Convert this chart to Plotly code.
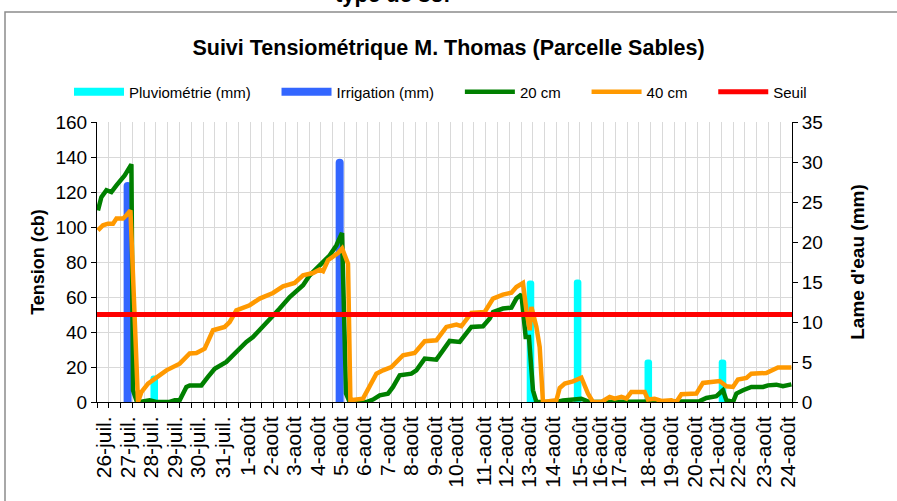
import plotly.graph_objects as go

# ---------------- data ----------------
dates = ["26-juil.", "27-juil.", "28-juil.", "29-juil.", "30-juil.", "31-juil.",
         "1-août", "2-août", "3-août", "4-août", "5-août", "6-août", "7-août", "8-août",
         "9-août", "10-août", "11-août", "12-août", "13-août", "14-août", "15-août",
         "16-août", "17-août", "18-août", "19-août", "20-août", "21-août", "22-août",
         "23-août", "24-août"]
# position of each date label along the reading axis (reading index units)
date_pos = [0.15, 2.13, 4.12, 6.10, 8.07, 10.20, 12.32, 14.30, 16.28, 18.26,
            20.25, 22.22, 24.20, 26.19, 28.17, 30.01, 32.41, 34.25, 36.23, 38.21,
            40.54, 42.23, 43.81, 46.27, 48.26, 50.24, 52.13, 53.91, 56.18, 58.16]

# tension at 20 cm (cb)
t20_x = [-0.42, -0.13, 0.30, 0.72, 1.15, 1.57, 1.85, 2.42, 2.56, 2.84, 3.12, 3.97, 4.54,
         5.67, 6.10, 6.52, 7.09, 7.37, 8.36, 8.92, 9.49, 10.48, 11.04, 11.61, 12.18,
         12.74, 13.59, 14.30, 15.01, 15.86, 16.56, 16.99, 17.56, 18.41, 19.26, 19.82,
         20.30, 20.64, 20.95, 22.37, 22.93, 23.50, 24.20, 24.63, 25.20, 26.19, 26.61,
         27.32, 28.31, 28.87, 29.44, 30.29, 30.86, 31.28, 32.27, 32.84, 33.12, 33.96,
         34.68, 35.10, 35.53, 35.89, 36.17, 36.51, 36.80, 38.50, 39.06, 40.20, 40.62,
         41.32, 42.74, 43.30, 44.44, 45.57, 46.42, 47.27, 50.09, 50.66, 51.23, 52.08,
         52.64, 52.93, 53.49, 53.78, 54.34, 55.05, 56.04, 56.46, 57.17, 57.73, 58.45]
t20_cb = [109.5, 117, 121, 120, 123.8, 126.7, 129.5, 135.8, 6.7, 1, 0, 1, 0,
          0, 1, 1, 8.6, 9.5, 9.5, 14.3, 19, 22.9, 26.7, 30.5, 34.3,
          37.1, 42.9, 48.6, 53.4, 60, 63.8, 66.7, 72.4, 78.1, 83.8, 89.5,
          96.6, 4.8, 0, 0, 1.4, 3.8, 4.8, 8.6, 15.3, 16.2, 18.1,
          24.8, 24.2, 29.5, 34.9, 34.3, 39.1, 42.9, 43.3, 47.7, 51.4, 53.4,
          53.9, 59.1, 61.5, 37.1, 37.1, 6.7, 0, 0, 0.8, 1.4, 1.9,
          0, 0, 0.5, 0.5, 0.6, 0.5, 0, 0, 0.5, 2.3, 3.3,
          6.7, 1, 0, 4.8, 6.7, 8.6, 8.6, 9.5, 9.9, 9, 10.1]

# tension at 40 cm (cb)
t40_x = [-0.42, 0.01, 0.43, 0.86, 1.15, 1.71, 2.00, 2.34, 2.98, 3.27, 3.83, 4.54, 5.39,
         6.52, 7.37, 7.94, 8.64, 9.35, 10.34, 10.76, 11.33, 12.46, 13.31, 14.44, 15.29,
         16.28, 16.99, 17.84, 18.40, 18.69, 19.11, 19.96, 20.31, 20.81, 21.01, 22.08,
         22.50, 23.22, 23.78, 24.49, 25.48, 26.47, 27.32, 28.31, 29.16, 30.01, 30.43,
         31.28, 32.41, 33.12, 33.96, 34.68, 35.10, 35.66, 35.95, 36.23, 36.38, 36.80,
         37.08, 37.36, 38.50, 38.78, 39.21, 39.91, 40.62, 41.18, 41.60, 42.32, 43.02,
         43.45, 44.02, 44.44, 44.86, 45.99, 46.27, 46.84, 47.41, 48.26, 48.68, 49.11,
         50.38, 50.94, 52.36, 52.93, 53.49, 53.91, 54.63, 55.05, 56.32, 57.31, 58.45]
t40_cb = [98.1, 101, 101.9, 101.9, 104.8, 104.8, 106.7, 109.5, 0, 5.7, 10.5, 14.3, 18.1,
          21.9, 27.7, 28, 30.5, 41, 42.9, 45.7, 52.4, 55.3, 59.1, 62.3, 66.1,
          68, 72.4, 73.7, 75.7, 74.7, 81, 85.1, 87.7, 79.1, 1, 1.9,
          6.7, 16.2, 18.1, 20, 26.7, 28, 34.7, 35.3, 42.9, 44.2, 43.3,
          50.9, 51.4, 59.1, 61.4, 62.5, 65.7, 68, 52.4, 41, 54.3, 42.9,
          31.4, 0, 1, 8, 10.5, 11.8, 13.9, 4.8, 0, 0, 2.9,
          1.9, 2.9, 1.9, 5.7, 5.7, 1.4, 1.9, 0.6, 1, 0, 4.4,
          4.8, 10.9, 12, 9, 8.6, 12.8, 13.7, 16.2, 16.6, 19.7, 19.7]

# water depths (mm)
pluvio_x = [4.36, 36.3, 40.3, 46.3, 52.6]
pluvio_mm = [3.3, 15.2, 15.3, 5.3, 5.3]
irrig_x = [2.1, 20.1]
irrig_mm = [27.5, 30.4]

SEUIL = 50
x_span = [-0.5, 58.5]

series_names = ["Pluviométrie (mm)", "Irrigation (mm)", "20 cm", "40 cm", "Seuil"]

FONT = "Liberation Sans, Arial, sans-serif"
C_PLUVIO = "#00FFFF"
C_IRRIG = "#3366FF"
C_20 = "#008000"
C_40 = "#FF9900"
C_SEUIL = "#FF0000"
GRID = "#D9D9D9"
PAD = "\u00a0" * 5  # spacing between legend entries


def lg(name):
    return name + PAD


fig = go.Figure()

# bars on the mm axis (base axis 'y', drawn underneath)
fig.add_bar(x=pluvio_x, y=pluvio_mm, width=0.64, marker=dict(color=C_PLUVIO, line_width=0,
            cornerradius=4), showlegend=False, name=series_names[0])
fig.add_bar(x=irrig_x, y=irrig_mm, width=0.68, marker=dict(color=C_IRRIG, line_width=0,
            cornerradius=4), showlegend=False, name=series_names[1])

# legend entries for the bars
fig.add_scatter(x=[None], y=[None], mode="lines", yaxis="y2", name=lg(series_names[0]),
                line=dict(color=C_PLUVIO, width=8))
fig.add_scatter(x=[None], y=[None], mode="lines", yaxis="y2", name=lg(series_names[1]),
                line=dict(color=C_IRRIG, width=8))

# tension curves on the cb axis (overlay, drawn on top)
fig.add_scatter(x=t20_x, y=t20_cb, mode="lines", yaxis="y2", name=lg(series_names[2]),
                line=dict(color=C_20, width=4.5))
fig.add_scatter(x=t40_x, y=t40_cb, mode="lines", yaxis="y2", name=lg(series_names[3]),
                line=dict(color=C_40, width=4.5))
fig.add_scatter(x=x_span, y=[SEUIL, SEUIL], mode="lines", yaxis="y2", name=series_names[4],
                line=dict(color=C_SEUIL, width=5))

fig.update_layout(
    width=897, height=501,
    margin=dict(l=97, r=105, t=122, b=99),
    paper_bgcolor="white", plot_bgcolor="white",
    font=dict(family=FONT, color="black", size=18),
    barmode="overlay",
    title=dict(text="<b>Suivi Tensiométrique M. Thomas (Parcelle Sables)</b>",
               x=0.5, xref="container", xanchor="center",
               y=1 - 47 / 501, yref="container", yanchor="middle",
               font=dict(size=21.5, family=FONT)),
    legend=dict(orientation="h", x=(69 - 97) / 695, xanchor="left", y=(402 - 92) / 280,
                yanchor="middle", font=dict(size=15, family=FONT), itemwidth=50,
                bgcolor="rgba(0,0,0,0)", traceorder="normal"),
    showlegend=True,
    xaxis=dict(range=x_span, tickmode="array", tickvals=date_pos, ticktext=dates,
               tickangle=-90, ticks="outside", ticklen=5, tickcolor="rgba(0,0,0,0)",
               showgrid=False, zeroline=False, showline=True, linecolor="black",
               linewidth=1, tickfont=dict(size=21),
               minor=dict(tickmode="linear", tick0=-0.5, dtick=1, ticks="outside",
                          ticklen=5, tickcolor="black", tickwidth=1,
                          showgrid=True, gridcolor=GRID, gridwidth=1)),
    yaxis=dict(side="right", range=[0, 35], dtick=5, tick0=0, ticks="outside", ticklen=5,
               tickcolor="black", showline=True, linecolor="black", showgrid=False,
               zeroline=False, tickfont=dict(size=19),
               title=dict(text="<b>Lame d'eau (mm)</b>", font=dict(size=19), standoff=28)),
    yaxis2=dict(overlaying="y", side="left", range=[0, 160], dtick=20, tick0=0,
                ticks="outside", ticklen=5, tickcolor="black", showline=True,
                linecolor="black", showgrid=True, gridcolor=GRID, gridwidth=1,
                zeroline=False, tickfont=dict(size=19),
                title=dict(text="<b>Tension (cb)</b>", font=dict(size=18), standoff=6)),
    shapes=[dict(type="rect", xref="paper", yref="paper",
                 x0=(5 - 97) / 695, x1=(905 - 97) / 695,
                 y0=(402 - 520) / 280, y1=(402 - 12) / 280,
                 line=dict(color="#8C8C8C", width=1.5), fillcolor="rgba(0,0,0,0)",
                 layer="below")],
    annotations=[dict(text="<b>type de sol</b>", xref="paper", yref="paper",
                      x=(392 - 97) / 695, y=(402 - 9) / 280, xanchor="center",
                      yanchor="bottom", showarrow=False, font=dict(size=22))],
)

fig.write_html("out.html", config={"displayModeBar": False},
               post_script="document.body.style.margin='0';")
